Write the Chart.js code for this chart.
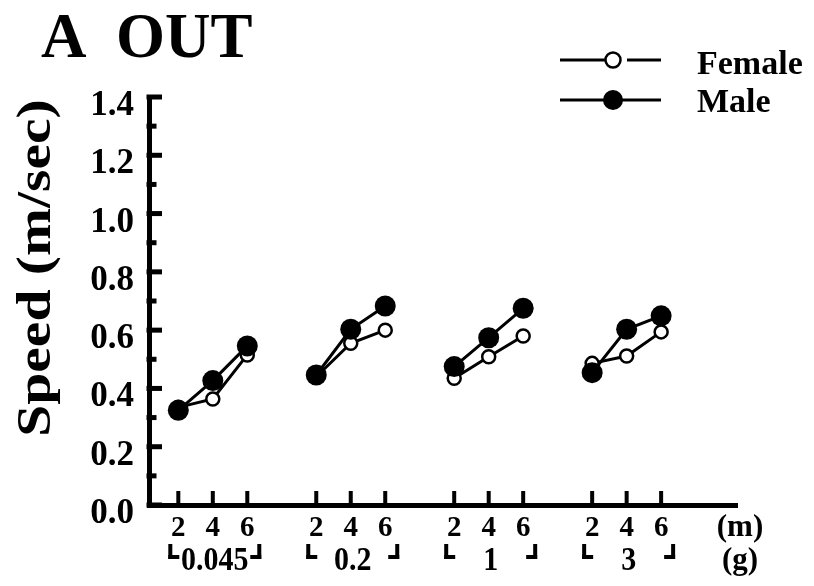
<!DOCTYPE html>
<html>
<head>
<meta charset="utf-8">
<script src="https://cdn.jsdelivr.net/npm/chart.js@4/dist/chart.umd.min.js"></script>
<style>
  body { margin: 0; background: #fff; }
  #wrap { width: 814px; height: 586px; position: relative; }
</style>
</head>
<body>
<div id="wrap"><canvas id="speed-chart-canvas"></canvas></div>
<script>
// distance (m) inside each mass group (g)
const distances = ['2', '4', '6'];
const masses = ['0.045', '0.2', '1', '3'];
// x slots: three per group, one empty slot between groups
const xSlots = [1, 2, 3, 5, 6, 7, 9, 10, 11, 13, 14, 15];
const femaleSpeed = [0.335, 0.364, 0.515, 0.44, 0.555, 0.60, 0.435, 0.509, 0.58, 0.486, 0.511, 0.594];
const maleSpeed = [0.325, 0.427, 0.546, 0.446, 0.603, 0.683, 0.475, 0.574, 0.675, 0.454, 0.603, 0.649];
const seriesNames = ['Female', 'Male'];
const yTitle = 'Speed (m/sec)';
const panelTitle = ['A', 'OUT'];

const SERIF = '"Liberation Serif", "Times New Roman", serif';

// split each series into its groups with a null between them
let toPoints = (values) => {
    const pts = [];
    values.forEach((v, i) => {
        pts.push({ x: xSlots[i], y: v });
        if (i % 3 === 2 && i < values.length - 1) pts.push({ x: xSlots[i] + 1, y: null });
    });
    return pts;
};

let drawExtras = {
    id: 'drawExtras',
    afterDraw(chart) {
        const ctx = chart.ctx;
        const xs = chart.scales.x;
        const ys = chart.scales.y;
        const area = chart.chartArea;
        ctx.save();
        ctx.fillStyle = '#000';
        ctx.strokeStyle = '#000';

        // inward y ticks, long on the labelled ones
        ys.ticks.forEach(t => {
            const py = ys.getPixelForValue(t.value);
            const major = Math.round(t.value * 10) % 2 === 0;
            ctx.fillRect(area.left - 2.5, py - 2.5, major ? 15.5 : 10, 5);
        });
        // inward x ticks
        xs.ticks.forEach(t => {
            const px = xs.getPixelForValue(t.value);
            ctx.fillRect(px - 2, area.bottom - 14, 4, 14);
        });

        // mass groups: brackets and labels
        ctx.textAlign = 'center';
        ctx.textBaseline = 'middle';
        masses.forEach((m, g) => {
            const x0 = xs.getPixelForValue(xSlots[g * 3]) - 8;
            const x1 = xs.getPixelForValue(xSlots[g * 3 + 2]) + 12;
            const xm = xs.getPixelForValue(xSlots[g * 3 + 1]);
            ctx.fillRect(x0 - 2, 544, 4, 15);
            ctx.fillRect(x0 - 2, 555, 11, 4);
            ctx.fillRect(x1 - 2, 544, 4, 15);
            ctx.fillRect(x1 - 9, 555, 11, 4);
            ctx.save();
            ctx.translate(xm + 2, 561);
            ctx.scale(1, 1.15);
            ctx.font = 'bold 30px ' + SERIF;
            ctx.fillText(m, 0, 0);
            ctx.restore();
        });

        // units at the end of the axis
        ctx.font = 'bold 31px ' + SERIF;
        ctx.fillText('(m)', 740, 528);
        ctx.fillText('(g)', 740, 561);

        // panel title
        ctx.font = 'bold 63px ' + SERIF;
        ctx.textAlign = 'left';
        ctx.textBaseline = 'alphabetic';
        ctx.fillText(panelTitle[0], 41, 57);
        ctx.fillText(panelTitle[1], 116, 57);

        // y axis title, stretched along its length
        ctx.save();
        ctx.translate(38, 268);
        ctx.rotate(-Math.PI / 2);
        ctx.scale(1.2, 1);
        ctx.font = 'bold 48px ' + SERIF;
        ctx.textAlign = 'center';
        ctx.textBaseline = 'middle';
        ctx.fillText(yTitle, 0, 0);
        ctx.restore();

        // legend
        ctx.lineWidth = 3;
        ctx.beginPath();
        ctx.moveTo(560, 60); ctx.lineTo(605, 60);
        ctx.moveTo(627, 60); ctx.lineTo(661, 60);
        ctx.moveTo(560, 100); ctx.lineTo(661, 100);
        ctx.stroke();
        ctx.lineWidth = 2.5;
        ctx.beginPath();
        ctx.arc(613, 60, 7.5, 0, Math.PI * 2);
        ctx.fillStyle = '#fff';
        ctx.fill();
        ctx.stroke();
        ctx.fillStyle = '#000';
        ctx.beginPath();
        ctx.arc(613, 100, 10, 0, Math.PI * 2);
        ctx.fill();

        ctx.font = 'bold 34px ' + SERIF;
        ctx.textBaseline = 'middle';
        ctx.fillText(seriesNames[0], 697, 65);
        ctx.fillText(seriesNames[1], 697, 103);
        ctx.restore();
    }
};

let speedChart = new Chart(document.getElementById('speed-chart-canvas').getContext('2d'), {
    type: 'line',
    data: {
        datasets: [{
            label: seriesNames[1],
            data: toPoints(maleSpeed),
            borderColor: '#000',
            borderWidth: 3,
            pointRadius: 10.5,
            pointBackgroundColor: '#000',
            pointBorderColor: '#000',
            pointBorderWidth: 0,
            spanGaps: false
        }, {
            label: seriesNames[0],
            data: toPoints(femaleSpeed),
            borderColor: '#000',
            borderWidth: 3,
            pointRadius: 6.5,
            pointBackgroundColor: '#fff',
            pointBorderColor: '#000',
            pointBorderWidth: 2.5,
            spanGaps: false
        }]
    },
    options: {
        responsive: true,
        maintainAspectRatio: false,
        animation: false,
        layout: { padding: { top: 97, right: 77, bottom: 0, left: 0 } },
        plugins: {
            legend: { display: false },
            tooltip: { enabled: false }
        },
        scales: {
            x: {
                type: 'linear',
                min: 0.15,
                max: 17.2,
                afterBuildTicks: (scale) => {
                    scale.ticks = xSlots.map(v => ({ value: v }));
                },
                afterFit: (scale) => { scale.height = 81; },
                grid: { display: true, drawOnChartArea: false, drawTicks: false },
                border: { display: true, color: '#000', width: 5 },
                ticks: {
                    autoSkip: false,
                    maxRotation: 0,
                    padding: 6,
                    color: '#000',
                    font: { family: SERIF, size: 29, weight: 'bold' },
                    callback: (value, index) => distances[index % 3]
                }
            },
            y: {
                min: 0,
                max: 1.4,
                afterFit: (scale) => { scale.width = 149; },
                grid: { display: true, drawOnChartArea: false, drawTicks: false },
                border: { display: true, color: '#000', width: 5 },
                ticks: {
                    stepSize: 0.1,
                    autoSkip: false,
                    padding: 15,
                    labelOffset: 9,
                    color: '#000',
                    font: { family: SERIF, size: 35, weight: 'bold' },
                    callback: (value) => Math.round(value * 10) % 2 === 0 ? value.toFixed(1) : ''
                }
            }
        }
    },
    plugins: [drawExtras]
});
</script>
</body>
</html>
